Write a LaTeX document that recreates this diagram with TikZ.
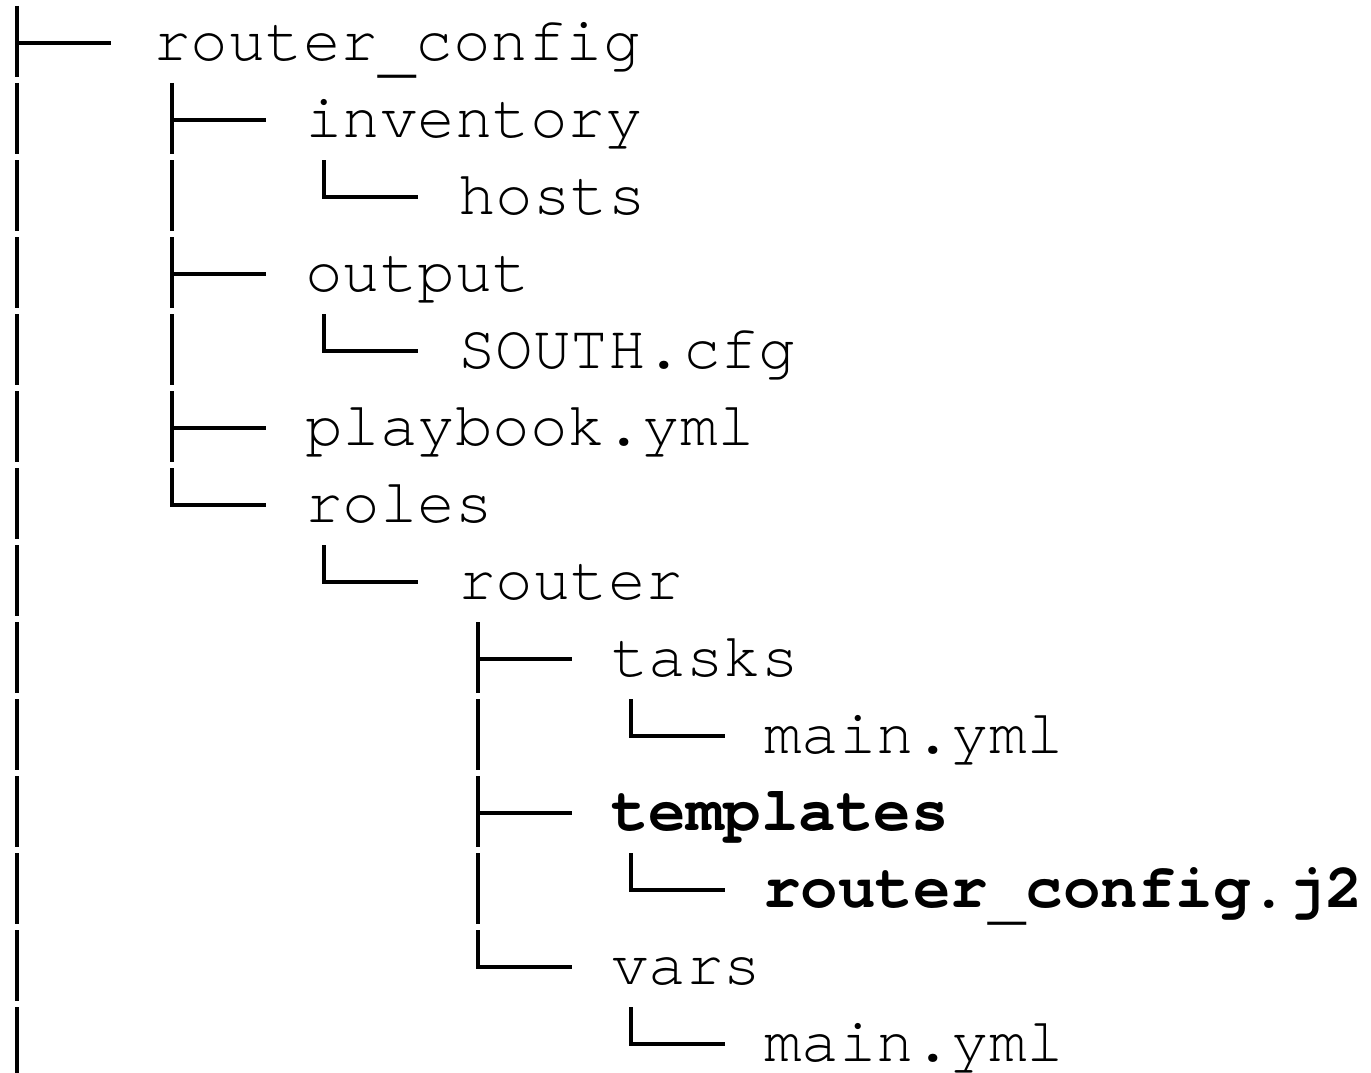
\documentclass[tikz,border=0pt]{standalone}
\usepackage{fontspec}
\setmonofont{texgyrecursor}[Extension=.otf,UprightFont=*-regular,BoldFont=*-bold,Ligatures=CommonOff]
\newcommand{\lowbar}{\raisebox{-0.17em}{\_}}
\begin{document}
\begin{tikzpicture}[x=1pt,y=-1pt,
  lbl/.style={anchor=base west,inner sep=0pt,font=\ttfamily\fontsize{62.5}{75}\selectfont},
  bld/.style={lbl,font=\ttfamily\bfseries\fontsize{62.5}{75}\selectfont},
  treeline/.style={line width=4pt,black}]
\useasboundingbox (0,0) rectangle (1371,1073);
\fill[white] (0,0) rectangle (1371,1073);
% level x positions of tree glyphs
\def\lx#1{\ifcase#1 17\or 172\or 324\or 478\or 631\fi}
% text nodes
\node[lbl] (n0)  at (153,60)         {router\lowbar config};
\node[lbl] (n1)  at (305,60+77)      {inventory};
\node[lbl] (n2)  at (458,60+2*77)    {hosts};
\node[lbl] (n3)  at (305,60+3*77)    {output};
\node[lbl] (n4)  at (458,60+4*77)    {SOUTH.cfg};
\node[lbl] (n5)  at (305,60+5*77)    {playbook.yml};
\node[lbl] (n6)  at (305,60+6*77)    {roles};
\node[lbl] (n7)  at (458,60+7*77)    {router};
\node[lbl] (n8)  at (611,60+8*77)    {tasks};
\node[lbl] (n9)  at (764,60+9*77)    {main.yml};
\node[bld] (n10) at (611,60+10*77)   {templates};
\node[bld] (n11) at (763,60+11*77)   {router\lowbar config.j2};
\node[lbl] (n12) at (611,60+12*77)   {vars};
\node[lbl] (n13) at (764,60+13*77)   {main.yml};
% vertical bars (level/row)
\foreach \l/\r in {0/1,0/2,0/3,0/4,0/5,0/6,0/7,0/8,0/9,0/10,0/11,0/12,0/13,1/2,1/4,3/9,3/11}
  \draw[treeline] ({\lx{\l}},{6+77*\r}) -- ({\lx{\l}},{77+77*\r});
% tees
\foreach \l/\r in {0/0,1/1,1/3,1/5,3/8,3/10}{
  \draw[treeline] ({\lx{\l}},{6+77*\r}) -- ({\lx{\l}},{77+77*\r});
  \draw[treeline] ({\lx{\l}-2},{43+77*\r}) -- ({\lx{\l}+94},{43+77*\r});
}
% ells
\foreach \l/\r in {2/2,2/4,1/6,2/7,4/9,4/11,3/12,4/13}
  \draw[treeline] ({\lx{\l}},{6+77*\r}) |- ({\lx{\l}+94},{43+77*\r});
\end{tikzpicture}
\end{document}
